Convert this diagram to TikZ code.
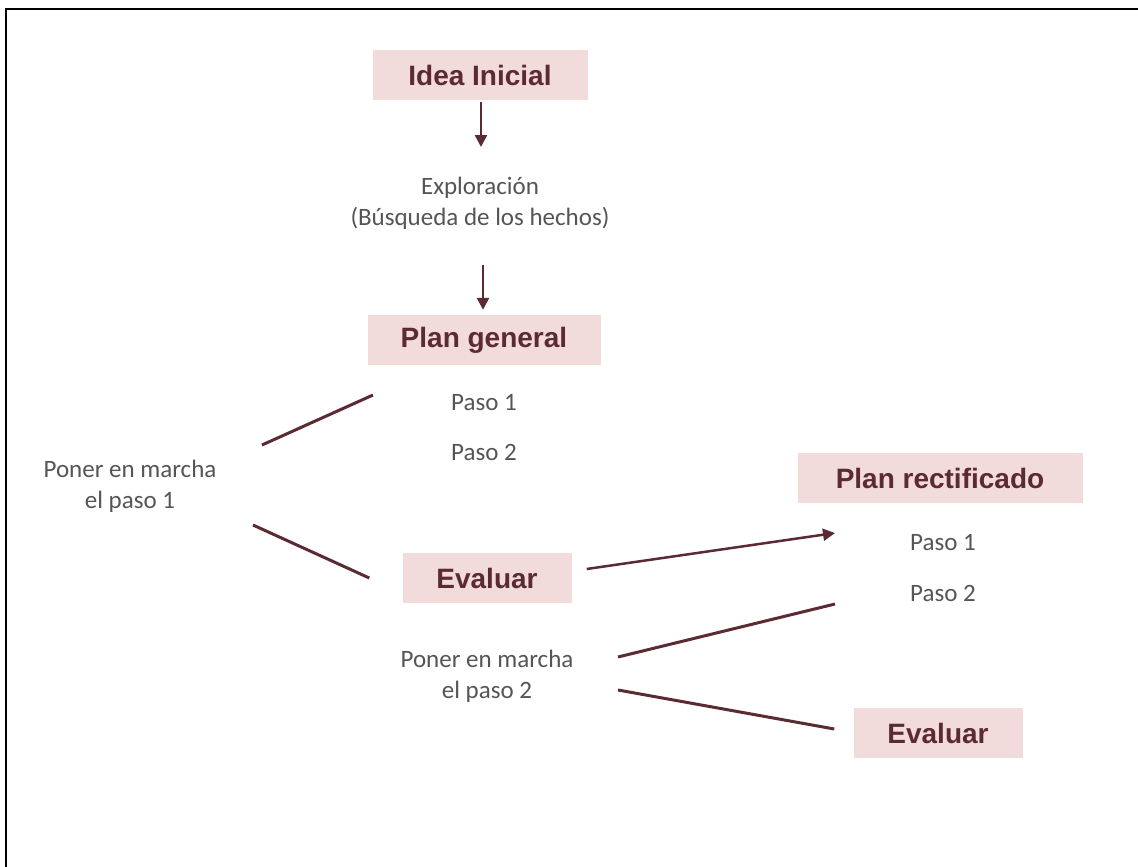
\documentclass[tikz,border=0pt]{standalone}
\usepackage{fontspec}
\setmainfont{Carlito}
\newfontfamily\headfont{Liberation Sans}
\usetikzlibrary{arrows.meta}

\definecolor{boxpink}{HTML}{F2DCDB}
\definecolor{wine}{HTML}{5B2A33}
\definecolor{txtgray}{HTML}{555555}

\begin{document}
\begin{tikzpicture}[x=1pt, y=-1pt, >={Triangle[length=12pt,width=12pt]},
  stage/.style={fill=boxpink, minimum height=50, inner sep=0, text=wine,
    font=\headfont\bfseries\fontsize{28}{30}\selectfont},
  note/.style={text=txtgray, align=center, inner sep=0,
    font=\fontsize{25}{31}\selectfont},
  link/.style={draw=wine, line width=3pt},
  arrow/.style={draw=wine, line width=2.5pt, ->}]

\useasboundingbox (0,0) rectangle (1138,867);
\draw [line width=2.5pt] (6,867) -- (6,9) -- (1138,9);

\node[stage, minimum width=215] (idea) at (480,75) {Idea Inicial};
\node[note] (explor) at (480,203) {Exploración\\(Búsqueda de los hechos)};
\node[stage, minimum width=233] (plangen) at (484,340) {Plan general};
\node[note] (pasoGenUno) at (484,403) {Paso 1};
\node[note] (pasoGenDos) at (484,452) {Paso 2};

\node[note] (poner1) at (130,486) {Poner en marcha\\el paso 1};
\node[stage, minimum width=169] (evalA) at (487,578) {Evaluar};

\node[stage, minimum width=285] (rect) at (940,478) {Plan rectificado};
\node[note] (pasoRectUno) at (943,543) {Paso 1};
\node[note] (pasoRectDos) at (943,593) {Paso 2};

\node[note] (poner2) at (487,676) {Poner en marcha\\el paso 2};
\node[stage, minimum width=169] (evalB) at (938,733) {Evaluar};

% flujo principal
\draw[arrow] ([shift={(1,2)}]idea.south) -- ([shift={(1,-56)}]explor.center);
\draw[arrow] ([shift={(3,62)}]explor.center) -- ([shift={(-1,-5)}]plangen.north);

% primer paso
\draw[link] ([shift={(132,-41)}]poner1.center) -- ([shift={(-111,-8)}]pasoGenUno.center);
\draw[link] ([shift={(123,39)}]poner1.center) -- ([shift={(-33,0)}]evalA.west);
\draw[arrow] ([shift={(15,-9)}]evalA.east) -- ([shift={(-108,-10)}]pasoRectUno.center);

% segundo paso
\draw[link] ([shift={(131,-19)}]poner2.center) -- ([shift={(-108,11)}]pasoRectDos.center);
\draw[link] ([shift={(131,14)}]poner2.center) -- ([shift={(-19,-4)}]evalB.west);

\end{tikzpicture}
\end{document}
